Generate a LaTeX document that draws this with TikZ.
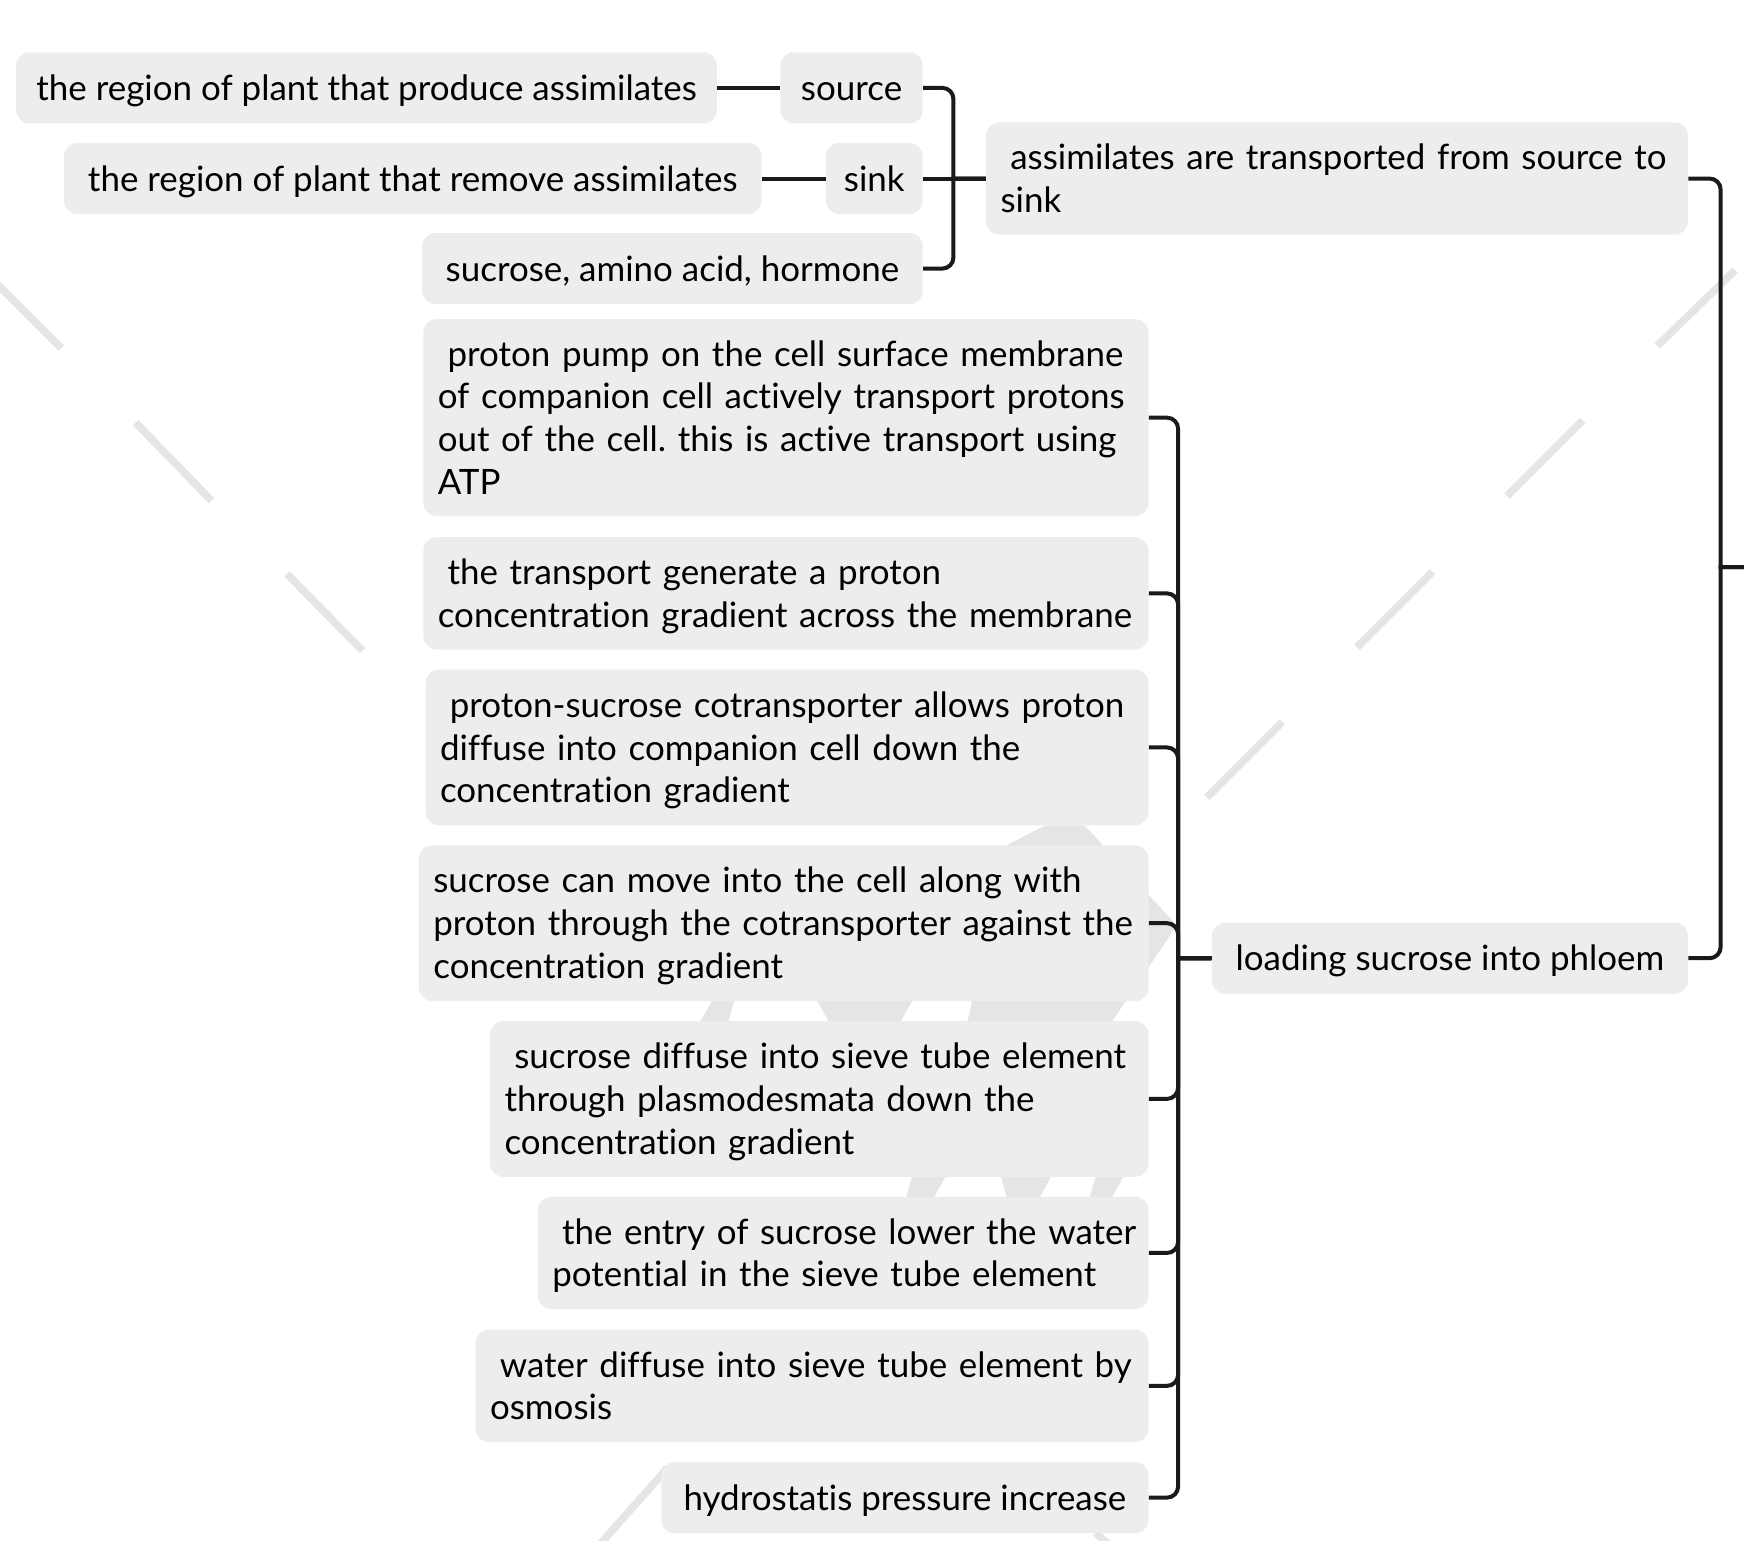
\documentclass[tikz,border=0pt]{standalone}
\usepackage{fontspec}
\setmainfont{Lato}[Ligatures=NoCommon]
\usetikzlibrary{calc}
\frenchspacing
\definecolor{boxfill}{RGB}{237,237,237}
\definecolor{linedark}{RGB}{26,26,26}
\definecolor{markgray}{RGB}{229,229,229}
\tikzset{
  topic/.style={fill=boxfill, rounded corners=6pt, anchor=east, inner xsep=6.5pt,
    inner ysep=0pt, align=left, text height=13.3pt, text depth=1.95pt,
    font=\fontsize{15.7}{19.25}\selectfont},
  oneline/.style={topic, align=center, minimum height=32pt},
  twolines/.style={topic, text depth=21.2pt, minimum height=50.5pt},
  threelines/.style={topic, text depth=40.45pt, minimum height=70pt},
  fourlines/.style={topic, text depth=59.7pt, minimum height=88.5pt},
  conn/.style={draw=linedark, line width=1.8pt},
  wmark/.style={draw=markgray, line width=3.4pt}
}
\newcommand{\lead}{\hspace*{.28em}}
\newcommand{\row}[1]{\mbox{#1}}
\begin{document}
\begin{tikzpicture}[x=0.5pt, y=-0.5pt]
  \useasboundingbox[fill=white] (0,0) rectangle (1568,1385);
  % watermark
  \foreach \a/\b in {{-5,253}/{55,313}, {122,380}/{190,450}, {258,516}/{326,585},
      {1560,243}/{1490,311}, {1423,378}/{1355,446}, {1288,514}/{1220,582},
      {1153,649}/{1085,717}, {538,1390}/{600,1320}, {985,1378}/{1000,1392}}
    \draw[wmark] (\a) -- (\b);
  \fill[markgray] (905,760) -- (940,742) -- (975,742) -- (1058,832) -- (1000,918) -- (870,918) -- cycle;
  \fill[markgray] (640,900) -- (660,900) -- (655,918) -- (630,918) -- cycle;
  \fill[markgray] (735,900) -- (820,900) -- (810,918) -- (745,918) -- cycle;
  \fill[markgray] (820,1058) -- (850,1058) -- (840,1076) -- (815,1076) -- cycle;
  \fill[markgray] (900,1058) -- (945,1058) -- (935,1076) -- (905,1076) -- cycle;
  \fill[markgray] (985,1058) -- (1010,1058) -- (1000,1076) -- (980,1076) -- cycle;

  % nodes
  \node[oneline, minimum width=315pt] (prod) at (645,79) {the region of plant that produce assimilates};
  \node[oneline, minimum width=64pt] (source) at (830,79) {source};
  \node[oneline, minimum width=313.5pt] (remo) at (685,160.5) {the region of plant that remove assimilates};
  \node[oneline, minimum width=43.5pt] (sink) at (830,160.5) {sink};
  \node[oneline, minimum width=225pt] (suc) at (830,241.5) {sucrose, amino acid, hormone};
  \node[twolines, text width=302.5pt] (transp) at (1518,160.5)
    {\row{\lead assimilates are transported from source to}\\\row{sink}};
  \node[oneline, minimum width=214pt] (load) at (1518,861.5) {loading sucrose into phloem};

  \node[fourlines, text width=313pt] (pump) at (1033,375.5)
    {\row{\lead proton pump on the cell surface membrane}\\\row{of companion cell actively transport protons}\\\row{out of the cell. this is active transport using}\\\row{ATP}};
  \node[twolines, text width=313pt] (grad) at (1033,533.5)
    {\row{\lead the transport generate a proton}\\\row{concentration gradient across the membrane}};
  \node[threelines, text width=312pt] (cotr) at (1033,672)
    {\row{\lead proton-sucrose cotransporter allows proton}\\\row{diffuse into companion cell down the}\\\row{concentration gradient}};
  \node[threelines, text width=315pt] (move) at (1033,830)
    {\row{sucrose can move into the cell along with}\\\row{proton through the cotransporter against the}\\\row{concentration gradient}};
  \node[threelines, text width=283pt] (diff) at (1033,988)
    {\row{\lead sucrose diffuse into sieve tube element}\\\row{through plasmodesmata down the}\\\row{concentration gradient}};
  \node[twolines, text width=261.5pt] (entry) at (1033,1126.5)
    {\row{\lead the entry of sucrose lower the water}\\\row{potential in the sieve tube element}};
  \node[twolines, text width=289.5pt] (osmo) at (1033,1246)
    {\row{\lead water diffuse into sieve tube element by}\\\row{osmosis}};
  \node[oneline, minimum width=219pt] (hydro) at (1033,1346.5) {hydrostatis pressure increase};

  % connectors
  \coordinate (root) at (1580,510);
  \draw[conn] (prod.east) -- (source.west);
  \draw[conn] (remo.east) -- (sink.west);
  \draw[conn] (transp.west) -- (sink.east);
  \foreach \n in {source,suc}
    \draw[conn] (transp.west) -- ++(-29,0) [rounded corners=5pt] |- (\n.east);
  \foreach \n in {transp,load}
    \draw[conn] (root) -- ++(-33,0) [rounded corners=5pt] |- (\n.east);
  \foreach \n in {pump,grad,cotr,move,diff,entry,osmo,hydro}
    \draw[conn] (load.west) -- ++(-30,0) [rounded corners=5pt] |- (\n.east);
\end{tikzpicture}
\end{document}
